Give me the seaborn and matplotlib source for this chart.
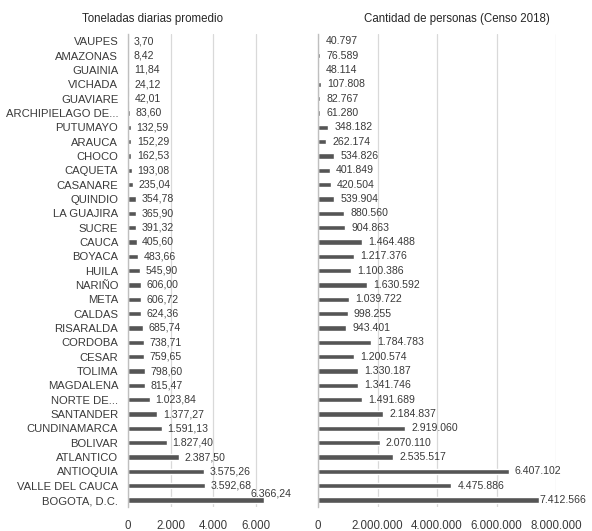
import matplotlib
matplotlib.use("Agg")
import matplotlib.pyplot as plt
import seaborn as sns
import pandas as pd

departamentos = [
    "VAUPES", "AMAZONAS", "GUAINIA", "VICHADA", "GUAVIARE", "ARCHIPIELAGO DE...",
    "PUTUMAYO", "ARAUCA", "CHOCO", "CAQUETA", "CASANARE", "QUINDIO", "LA GUAJIRA",
    "SUCRE", "CAUCA", "BOYACA", "HUILA", "NARIÑO", "META", "CALDAS", "RISARALDA",
    "CORDOBA", "CESAR", "TOLIMA", "MAGDALENA", "NORTE DE...", "SANTANDER",
    "CUNDINAMARCA", "BOLIVAR", "ATLANTICO", "ANTIOQUIA", "VALLE DEL CAUCA",
    "BOGOTA, D.C.",
]
toneladas = [
    3.70, 8.42, 11.84, 24.12, 42.01, 83.60, 132.59, 152.29, 162.53, 193.08,
    235.04, 354.78, 365.90, 391.32, 405.60, 483.66, 545.90, 606.00, 606.72,
    624.36, 685.74, 738.71, 759.65, 798.60, 815.47, 1023.84, 1377.27, 1591.13,
    1827.40, 2387.50, 3575.26, 3592.68, 6366.24,
]
personas = [
    40797, 76589, 48114, 107808, 82767, 61280, 348182, 262174, 534826, 401849,
    420504, 539904, 880560, 904863, 1464488, 1217376, 1100386, 1630592, 1039722,
    998255, 943401, 1784783, 1200574, 1330187, 1341746, 1491689, 2184837,
    2919060, 2070110, 2535517, 6407102, 4475886, 7412566,
]
ticks_ton = [0, 2000, 4000, 6000]
ticks_per = [0, 2000000, 4000000, 6000000, 8000000]

titulo_ton = "Toneladas diarias promedio"
titulo_per = "Cantidad de personas (Censo 2018)"

sns.set_style("white")
plt.rcParams["font.family"] = ["Liberation Sans", "DejaVu Sans"]

BAR = "#555555"
TXT = "#3a3a3a"
GRID = "#d9d9d9"
AXIS = "#bfbfbf"


def fmt_es(v, dec=0):
    s = f"{v:,.{dec}f}"
    return s.replace(",", "X").replace(".", ",").replace("X", ".")


df = pd.DataFrame({"dep": departamentos, "ton": toneladas, "per": personas})

fig = plt.figure(figsize=(5.92, 5.31), dpi=100)
ax1 = fig.add_axes([128 / 592, 0.0448, 136.5 / 592, 0.891])
ax2 = fig.add_axes([318 / 592, 0.0448, 238 / 592, 0.891])

sns.barplot(data=df, x="ton", y="dep", orient="h", color=BAR, width=0.38,
            saturation=1, ax=ax1)
sns.barplot(data=df, x="per", y="dep", orient="h", color=BAR, width=0.38,
            saturation=1, ax=ax2)

for ax, ticks, xmax in ((ax1, ticks_ton, 6400), (ax2, ticks_per, 8000000)):
    ax.set_xlim(0, xmax)
    ax.set_xticks(ticks)
    ax.set_xlabel("")
    ax.set_ylabel("")
    ax.grid(axis="x", color=GRID, linewidth=0.9)
    ax.set_axisbelow(True)
    for side in ("top", "right", "bottom"):
        ax.spines[side].set_visible(False)
    ax.spines["left"].set_color(AXIS)
    ax.spines["left"].set_linewidth(1.0)
    ax.tick_params(axis="x", length=0, pad=9, labelsize=8.3, colors=TXT)
    ax.tick_params(axis="y", length=0, pad=7, labelsize=8.1, colors=TXT)

ax1.set_xticklabels([fmt_es(t) for t in ticks_ton])
ax2.set_xticklabels([fmt_es(t) for t in ticks_per])
ax2.set_yticklabels([])

last = len(departamentos) - 1
for i, v in enumerate(toneladas):
    if i == last:
        ax1.annotate(fmt_es(v, 2), (v, i), xytext=(5, 4.5),
                     textcoords="offset points", ha="center", va="center",
                     fontsize=7.6, color=TXT, annotation_clip=False)
    else:
        ax1.annotate(fmt_es(v, 2), (v, i), xytext=(4, 0),
                     textcoords="offset points", ha="left", va="center",
                     fontsize=7.6, color=TXT, annotation_clip=False)

for i, v in enumerate(personas):
    dx = 1 if i == last else 4.5
    ax2.annotate(fmt_es(v), (v, i), xytext=(dx, 0),
                 textcoords="offset points", ha="left", va="center",
                 fontsize=7.6, color=TXT, annotation_clip=False)

fig.text(153 / 592, 1 - 19 / 531, titulo_ton, ha="center", va="center",
         fontsize=8.3, color="#262626")
fig.text(457 / 592, 1 - 19 / 531, titulo_per, ha="center", va="center",
         fontsize=8.3, color="#262626")

fig.savefig("out.png", dpi=100, facecolor="white")
